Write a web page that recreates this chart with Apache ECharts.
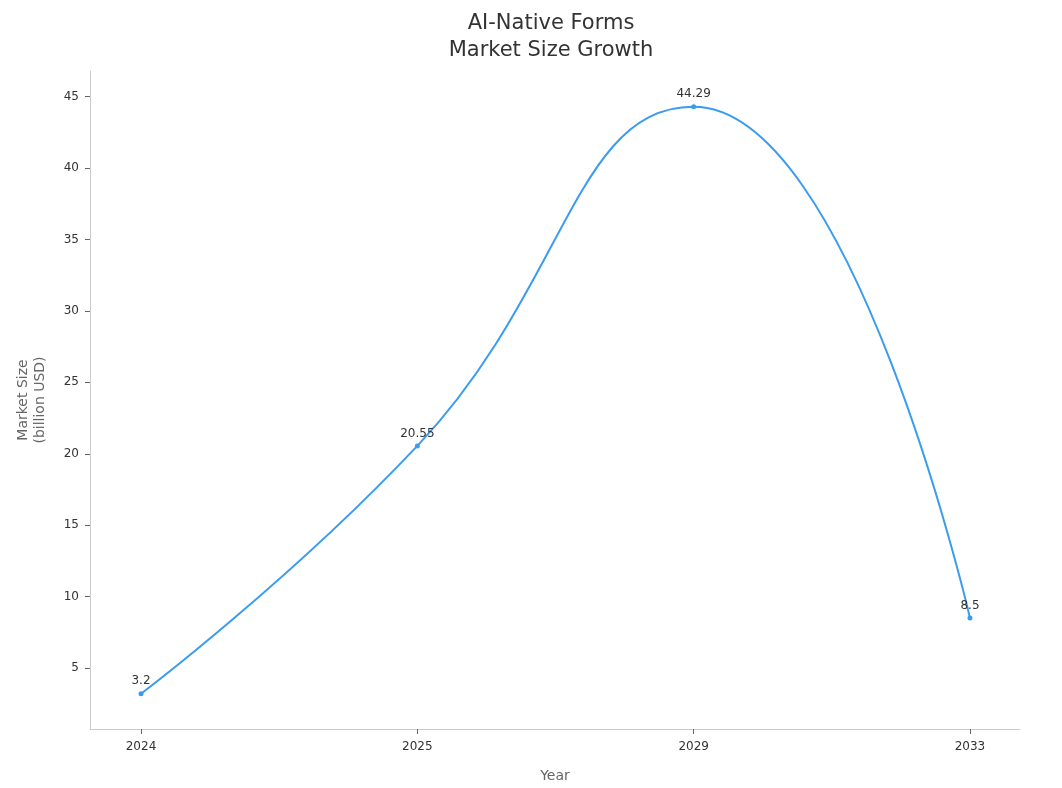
<!DOCTYPE html>
<html>
<head>
<meta charset="utf-8">
<script src="https://cdn.jsdelivr.net/npm/echarts@6/dist/echarts.min.js"></script>
<style>html,body{margin:0;padding:0;background:#fff;}#c{width:1062px;height:788px;}</style>
</head>
<body>
<div id="c"></div>
<script>
const categories = ['2024', '2025', '2029', '2033'];
const marketSize = [3.2, 20.55, 44.29, 8.5];
const yTicks = [5, 10, 15, 20, 25, 30, 35, 40, 45];

const FONT = '"DejaVu Sans", Verdana, sans-serif';
const chart = echarts.init(document.getElementById('c'), null, {renderer: 'canvas'});
const idx = categories.map((_, i) => i);
chart.setOption({
  animation: false,
  backgroundColor: '#fff',
  title: {
    text: 'AI-Native Forms\nMarket Size Growth',
    left: 546, textAlign: 'center', top: 5,
    textStyle: {fontFamily: FONT, fontSize: 21, fontWeight: 'normal', color: '#333', lineHeight: 27}
  },
  grid: {left: 90, right: 42, top: 71, bottom: 59, containLabel: false},
  xAxis: {
    type: 'value',
    min: -0.1846, max: 3.181,
    name: 'Year', nameLocation: 'middle', nameGap: 40,
    nameTextStyle: {fontFamily: FONT, fontSize: 14, color: '#666'},
    axisLine: {show: true, onZero: false, lineStyle: {color: '#ccc'}},
    axisTick: {show: true, length: 5, lineStyle: {color: '#666'}, customValues: idx},
    axisLabel: {fontFamily: FONT, fontSize: 12, color: '#333', margin: 12, customValues: idx,
      formatter: v => categories[Math.round(v)] || ''},
    splitLine: {show: false}
  },
  yAxis: {
    type: 'value',
    min: 0.73, max: 46.8,
    name: 'Market Size\n(billion USD)', nameLocation: 'middle', nameGap: 41,
    nameTextStyle: {fontFamily: FONT, fontSize: 14, color: '#666', lineHeight: 17},
    axisLine: {show: true, onZero: false, lineStyle: {color: '#ccc'}},
    axisTick: {show: true, length: 5, lineStyle: {color: '#666'}, customValues: yTicks},
    axisLabel: {fontFamily: FONT, fontSize: 12, color: '#333', margin: 11, customValues: yTicks},
    splitLine: {show: false}
  },
  series: [{
    type: 'line',
    data: marketSize.map((v, i) => [i, v]),
    smooth: 0.5,
    symbol: 'circle', symbolSize: 5,
    itemStyle: {color: '#3a9cf0'},
    lineStyle: {color: '#3a9cf0', width: 2},
    label: {show: true, position: 'top', distance: 4, fontFamily: FONT, fontSize: 12, color: '#333',
      formatter: p => String(p.value[1])}
  }]
});
</script>
</body>
</html>
